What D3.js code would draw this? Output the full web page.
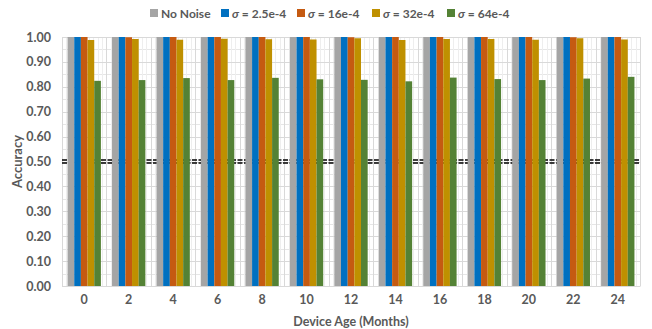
<!DOCTYPE html>
<html>
<head>
<meta charset="utf-8">
<script src="https://cdn.jsdelivr.net/npm/d3@7"></script>
<style>
  html, body { margin: 0; padding: 0; background: #fff; }
  svg { display: block; font-family: Lato, "Open Sans", sans-serif; }
</style>
</head>
<body>
<svg id="chart" width="652" height="329"></svg>
<script>
// Device age in months (x categories)
const months = ["0", "2", "4", "6", "8", "10", "12", "14", "16", "18", "20", "22", "24"];

// Accuracy for each noise level
const noNoise  = [1.00, 1.00, 1.00, 1.00, 1.00, 1.00, 1.00, 1.00, 1.00, 1.00, 1.00, 1.00, 1.00];
const sigma2_5 = [1.00, 1.00, 1.00, 1.00, 1.00, 1.00, 1.00, 1.00, 1.00, 1.00, 1.00, 1.00, 1.00];
const sigma16  = [1.00, 0.999, 1.00, 1.00, 1.00, 1.00, 0.999, 1.00, 1.00, 1.00, 1.00, 0.999, 1.00];
const sigma32  = [0.988, 0.992, 0.989, 0.993, 0.991, 0.990, 0.995, 0.988, 0.992, 0.992, 0.989, 0.995, 0.990];
const sigma64  = [0.824, 0.827, 0.835, 0.827, 0.836, 0.830, 0.828, 0.822, 0.837, 0.831, 0.827, 0.833, 0.840];

const seriesNames  = ["No Noise", "2.5e-4", "16e-4", "32e-4", "64e-4"];
const seriesColors = ["#A5A5A5", "#0070C0", "#C55A11", "#BF9000", "#548235"];
const seriesValues = [noNoise, sigma2_5, sigma16, sigma32, sigma64];

const yTicks = [0, 0.1, 0.2, 0.3, 0.4, 0.5, 0.6, 0.7, 0.8, 0.9, 1.0];
const threshold = 0.5;

const svg = d3.select("#chart");
const margin = { left: 62, right: 12, top: 37, bottom: 43 };
const W = 652, H = 329;
const plotW = W - margin.left - margin.right;
const plotH = H - margin.top - margin.bottom;

const g = svg.append("g").attr("transform", `translate(${margin.left},${margin.top})`);

const x0 = d3.scaleBand().domain(months).range([0, plotW]).paddingInner(0.25).paddingOuter(0.125);
const xCat = d3.scaleBand().domain(months).range([0, plotW]).padding(0);
const x1 = d3.scaleBand().domain(seriesNames).range([0, x0.bandwidth()]).padding(0);
const y = d3.scaleLinear().domain([0, 1]).range([plotH, 0]);

// minor horizontal grid (every 0.05)
const minorY = d3.range(0, 1.0001, 0.05);
g.append("g").selectAll("line").data(minorY).join("line")
  .attr("x1", 0).attr("x2", plotW)
  .attr("y1", d => Math.round(y(d)) + 0.5).attr("y2", d => Math.round(y(d)) + 0.5)
  .attr("stroke", "#e6e6e6").attr("stroke-width", 1);

// minor vertical grid, ten per category
const minorX = d3.range(0, months.length * 10 + 1).map(i => i * xCat.step() / 10);
g.append("g").selectAll("line").data(minorX).join("line")
  .attr("x1", d => Math.round(d) + 0.5).attr("x2", d => Math.round(d) + 0.5)
  .attr("y1", 0).attr("y2", plotH)
  .attr("stroke", "#eeeeee").attr("stroke-width", 1);

// major vertical grid at category boundaries
g.append("g").selectAll("line").data(d3.range(0, months.length + 1)).join("line")
  .attr("x1", d => Math.round(d * xCat.step()) + 0.5).attr("x2", d => Math.round(d * xCat.step()) + 0.5)
  .attr("y1", 0).attr("y2", plotH)
  .attr("stroke", "#d9d9d9").attr("stroke-width", 1);

// major horizontal grid
g.append("g").selectAll("line").data(yTicks).join("line")
  .attr("x1", 0).attr("x2", plotW)
  .attr("y1", d => Math.round(y(d)) + 0.5).attr("y2", d => Math.round(y(d)) + 0.5)
  .attr("stroke", "#d9d9d9").attr("stroke-width", 1);

// 0.5 reference: double dashed black line
[-1.5, 1.5].forEach(off => {
  g.append("line")
    .attr("x1", 0).attr("x2", plotW)
    .attr("y1", y(threshold) + off).attr("y2", y(threshold) + off)
    .attr("stroke", "#000").attr("stroke-width", 1.4)
    .attr("stroke-dasharray", "5,1.5");
});

// bars
const groups = g.append("g").selectAll("g").data(months).join("g")
  .attr("transform", d => `translate(${x0(d)},0)`);
groups.selectAll("rect")
  .data((m, i) => seriesNames.map((s, k) => ({ s, k, v: seriesValues[k][i] })))
  .join("rect")
  .attr("x", d => x1(d.s))
  .attr("width", x1.bandwidth())
  .attr("y", d => y(d.v))
  .attr("height", d => plotH - y(d.v))
  .attr("fill", d => seriesColors[d.k]);

// axes
const yAxis = d3.axisLeft(y).tickValues(yTicks).tickFormat(d3.format(".2f")).tickSize(0).tickPadding(11);
const ya = g.append("g").call(yAxis);
ya.select(".domain").remove();
ya.selectAll("text").attr("fill", "#595959").attr("font-size", 12.5).attr("font-weight", "bold")
  .attr("font-family", "Lato, sans-serif");

const xAxis = d3.axisBottom(x0).tickSize(0).tickPadding(9);
const xa = g.append("g").attr("transform", `translate(0,${plotH})`).call(xAxis);
xa.select(".domain").attr("stroke", "#d9d9d9");
xa.selectAll("text").attr("fill", "#595959").attr("font-size", 12.5).attr("font-weight", "bold")
  .attr("font-family", "Lato, sans-serif");

// axis titles
svg.append("text")
  .attr("x", margin.left + plotW / 2).attr("y", 326)
  .attr("text-anchor", "middle").attr("fill", "#595959")
  .attr("font-size", 12.5).attr("font-weight", "bold")
  .text("Device Age (Months)");

svg.append("text")
  .attr("transform", `translate(22,${margin.top + plotH / 2}) rotate(-90)`)
  .attr("text-anchor", "middle").attr("fill", "#595959")
  .attr("font-size", 13).attr("font-weight", "bold")
  .text("Accuracy");

// legend
const legendX = [150, 221, 297, 372, 447];
const legend = svg.append("g");
seriesNames.forEach((name, k) => {
  const lg = legend.append("g").attr("transform", `translate(${legendX[k]},9)`);
  lg.append("rect").attr("width", 8).attr("height", 8).attr("fill", seriesColors[k]);
  const t = lg.append("text").attr("x", 11).attr("y", 8.5)
    .attr("fill", "#595959").attr("font-size", 12).attr("font-weight", "bold");
  if (k === 0) {
    t.text(name);
  } else {
    t.append("tspan").attr("font-style", "italic").text("σ");
    t.append("tspan").text(" = " + name);
  }
});
</script>
</body>
</html>
